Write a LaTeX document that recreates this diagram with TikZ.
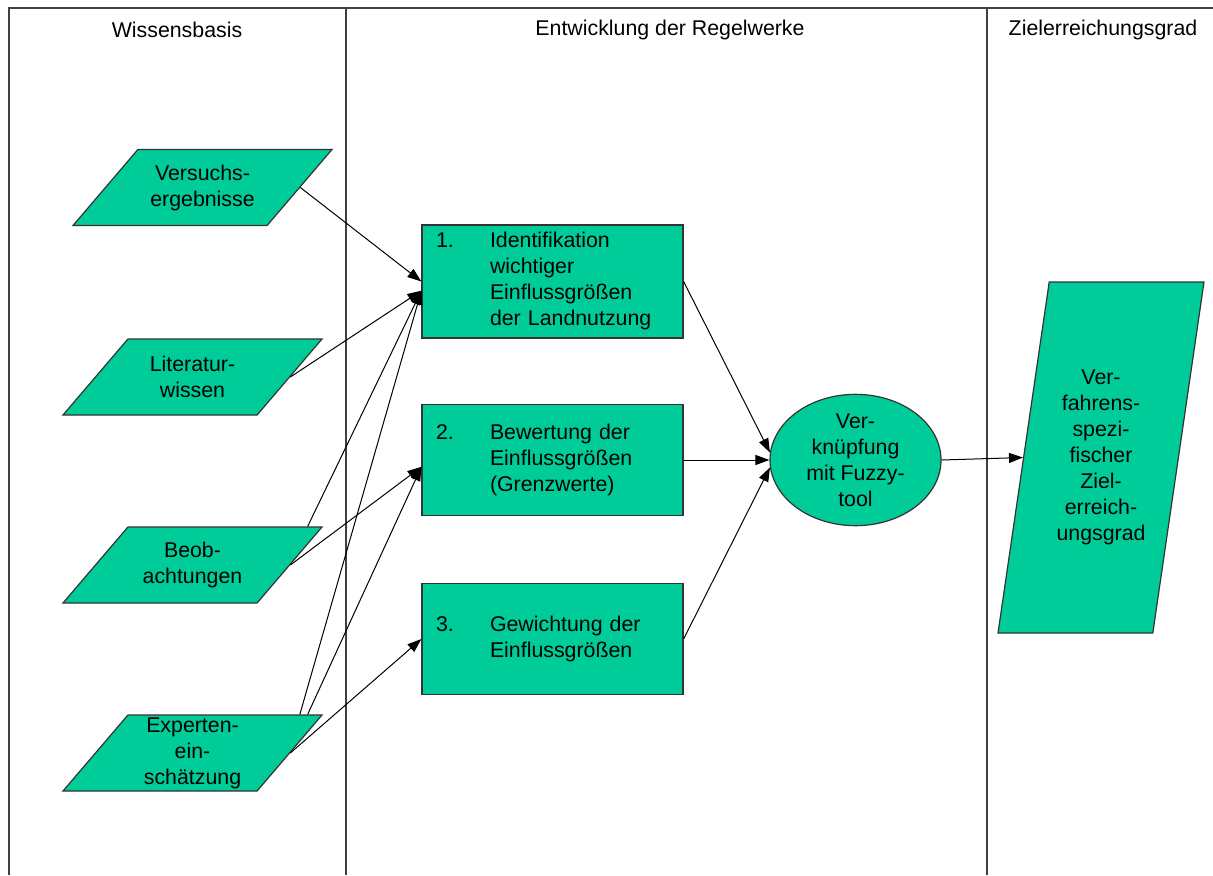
\documentclass[tikz,border=0pt]{standalone}
\usepackage{fontspec}
\setmainfont{Liberation Sans}
\usepackage{tikz}
\usetikzlibrary{calc,shapes.geometric,arrows.meta}
\definecolor{fuzzygreen}{RGB}{0,204,153}
\def\datanode{\node[trapezium,trapezium left angle=49.5,trapezium right angle=130.5,trapezium stretches body=true,minimum width=194.25pt,minimum height=57pt,inner sep=0pt,draw=black!80,line width=0.9pt,fill=fuzzygreen]}
\def\stepnode{\node[rectangle,minimum width=195.75pt,minimum height=83.25pt,text width=174.75pt,inner xsep=10.5pt,align=left,draw=black!80,line width=0.9pt,fill=fuzzygreen]}
\newcommand\datatext[1]{\parbox[c][57pt][c]{90pt}{\centering #1}}

\begin{document}
\begin{tikzpicture}[x=0.75pt,y=-0.75pt,font=\fontsize{16}{19.5}\selectfont,>={Triangle[length=10.5pt,width=7.5pt]}]
\useasboundingbox (0,0) rectangle (1213,875);
% Spalten
\draw[black!75,line width=1.1pt] (1213,8) -- (9,8) -- (9,875);
\draw[black!75,line width=1.1pt] (346,8) -- (346,875);
\draw[black!75,line width=1.1pt] (987,8) -- (987,875);
\node (kopfwissen) at (177,30) {Wissensbasis};
\node (kopfregel) at (670,30) {Entwicklung der Regelwerke};
\node (kopfziel) at (1103,30) {Zielerreichungsgrad};
% Wissensbasis
\datanode (versuch) at (202.5,187.5) {\datatext{Versuchs-\\ergebnisse}};
\datanode (literatur) at (192.5,377) {\datatext{Literatur-\\wissen}};
\datanode (beob) at (192.5,565) {\datatext{Beob-\\achtungen}};
\datanode (experten) at (192.5,753) {\datatext{Experten-\\ein-\\schätzung}};
\coordinate (beobtop) at ($(beob.top right corner)!0.08!(beob.top left corner)$);
\coordinate (exptopa) at ($(experten.top right corner)!0.12!(experten.top left corner)$);
\coordinate (exptopb) at ($(experten.top right corner)!0.08!(experten.top left corner)$);
% Regelwerke
\stepnode (ident) at (552.5,281.5) {\begin{tabular}{@{}p{40.5pt}@{}l@{}}1.&Identifikation\\&wichtiger\\&Einflussgrößen\\&der Landnutzung\end{tabular}};
\stepnode (bewert) at (552.5,460) {\begin{tabular}{@{}p{40.5pt}@{}l@{}}2.&Bewertung der\\&Einflussgrößen\\&(Grenzwerte)\end{tabular}};
\stepnode (gewicht) at (552.5,639) {\begin{tabular}{@{}p{40.5pt}@{}l@{}}3.&Gewichtung der\\&Einflussgrößen\end{tabular}};
\node[ellipse,minimum width=128.25pt,minimum height=96pt,inner sep=0pt,align=center,draw=black!80,line width=0.9pt,fill=fuzzygreen] (fuzzy) at (855.5,460) {Ver-\\knüpfung\\mit Fuzzy-\\tool};
% Ziel
\node[trapezium,trapezium left angle=81.7,trapezium right angle=98.3,trapezium stretches body=true,minimum width=154.5pt,minimum height=263.25pt,inner sep=0pt,draw=black!80,line width=0.9pt,fill=fuzzygreen] (ziel) at (1101,457.5) {\parbox[c][263.25pt][c]{70pt}{\centering Ver-\\fahrens-\\spezi-\\fischer\\Ziel-\\erreich-\\ungsgrad}};
% Pfeile
\draw[->,line width=0.75pt] (versuch.right side) -- (ident.west);
\draw[->,line width=0.75pt] (literatur.right side) -- (ident.184);
\draw[->,line width=0.75pt] (beobtop) -- (ident.184);
\draw[->,line width=0.75pt] (exptopa) -- (ident.184);
\draw[->,line width=0.75pt] (beob.right side) -- (bewert.183);
\draw[->,line width=0.75pt] (exptopb) -- (bewert.183);
\draw[->,line width=0.75pt] (experten.right side) -- (gewicht.west);
\draw[->,line width=0.75pt] (ident.east) -- (fuzzy.175);
\draw[->,line width=0.75pt] (bewert.east) -- (fuzzy.west);
\draw[->,line width=0.75pt] (gewicht.east) -- (fuzzy.185);
\draw[->,line width=0.75pt] (fuzzy.east) -- (ziel.left side);
\end{tikzpicture}
\end{document}
